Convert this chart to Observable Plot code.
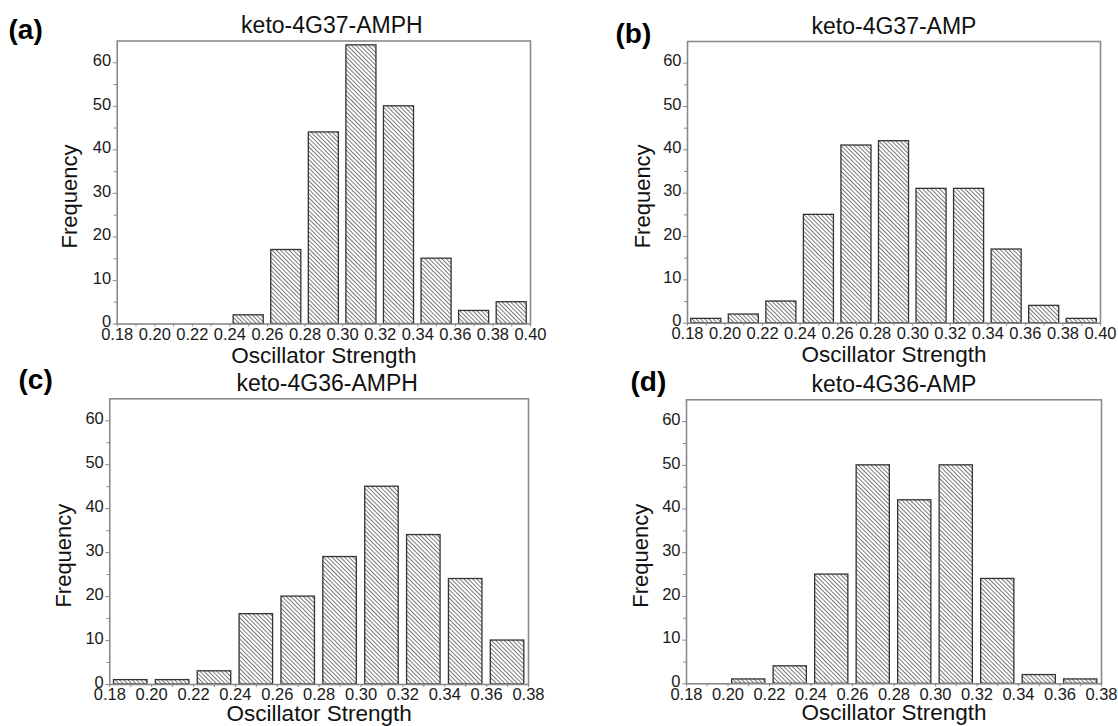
<!DOCTYPE html>
<html><head><meta charset="utf-8">
<script src="https://cdn.jsdelivr.net/npm/d3@7"></script>
<script src="https://cdn.jsdelivr.net/npm/@observablehq/plot@0.6"></script>
<style>
html,body{margin:0;padding:0;background:#fff;}
#root{position:relative;width:1118px;height:726px;overflow:hidden;}
.panel{position:absolute;}
</style></head><body>
<svg width="0" height="0" style="position:absolute">
<defs><pattern id="hatch" patternUnits="userSpaceOnUse" width="3" height="3" patternTransform="rotate(-45)">
<rect width="3" height="3" fill="#fff"/><line x1="0.5" y1="0" x2="0.5" y2="3" stroke="#7a7a7a" stroke-width="1"/></pattern></defs></svg>
<div id="root"></div>
<script>
// ---- data ----
const binLowAB  = [0.18, 0.20, 0.22, 0.24, 0.26, 0.28, 0.30, 0.32, 0.34, 0.36, 0.38];
const binHighAB = [0.20, 0.22, 0.24, 0.26, 0.28, 0.30, 0.32, 0.34, 0.36, 0.38, 0.40];
const binLowCD  = [0.18, 0.20, 0.22, 0.24, 0.26, 0.28, 0.30, 0.32, 0.34, 0.36];
const binHighCD = [0.20, 0.22, 0.24, 0.26, 0.28, 0.30, 0.32, 0.34, 0.36, 0.38];
const countsA = [0, 0, 0, 2, 17, 44, 64, 50, 15, 3, 5];
const countsB = [1, 2, 5, 25, 41, 42, 31, 31, 17, 4, 1];
const countsC = [1, 1, 3, 16, 20, 29, 45, 34, 24, 10];
const countsD = [0, 1, 4, 25, 50, 42, 50, 24, 2, 1];
const xTicksAB = [0.18, 0.20, 0.22, 0.24, 0.26, 0.28, 0.30, 0.32, 0.34, 0.36, 0.38, 0.40];
const xMinorAB = [0.19, 0.21, 0.23, 0.25, 0.27, 0.29, 0.31, 0.33, 0.35, 0.37, 0.39];
const xTicksCD = [0.18, 0.20, 0.22, 0.24, 0.26, 0.28, 0.30, 0.32, 0.34, 0.36, 0.38];
const xMinorCD = [0.19, 0.21, 0.23, 0.25, 0.27, 0.29, 0.31, 0.33, 0.35, 0.37];
const yTicks = [0, 10, 20, 30, 40, 50, 60];
const yMinor = [5, 15, 25, 35, 45, 55];
const titles = ["keto-4G37-AMPH", "keto-4G37-AMP", "keto-4G36-AMPH", "keto-4G36-AMP"];
const panelLabels = ["(a)", "(b)", "(c)", "(d)"];
const xLabel = "Oscillator Strength";
const yLabel = "Frequency";

// ---- layout ----
const panels = [
  {low: binLowAB, high: binHighAB, counts: countsA, xTicks: xTicksAB, xMinor: xMinorAB, title: titles[0], label: panelLabels[0],
   left: 0, top: 0, W: 559, H: 366, mL: 116.7, mR: 29, mT: 40.5, mB: 42.5, labDx: -108.7, labDy: -2, ylabDx: -47, xlabDy: 38.5, titleDx: 8},
  {low: binLowAB, high: binHighAB, counts: countsB, xTicks: xTicksAB, xMinor: xMinorAB, title: titles[1], label: panelLabels[1],
   left: 559, top: 0, W: 559, H: 366, mL: 128, mR: 18, mT: 41, mB: 43.3, labDx: -72, labDy: 1, ylabDx: -45, xlabDy: 39, titleDx: 0},
  {low: binLowCD, high: binHighCD, counts: countsC, xTicks: xTicksCD, xMinor: xMinorCD, title: titles[2], label: panelLabels[2],
   left: 0, top: 366, W: 559, H: 360, mL: 109.3, mR: 31, mT: 32.3, mB: 42, labDx: -91.3, labDy: -10, ylabDx: -46, xlabDy: 36, titleDx: 8},
  {low: binLowCD, high: binHighCD, counts: countsD, xTicks: xTicksCD, xMinor: xMinorCD, title: titles[3], label: panelLabels[3],
   left: 559, top: 366, W: 559, H: 360, mL: 127, mR: 17, mT: 33.3, mB: 42.7, labDx: -56, labDy: -9, ylabDx: -46, xlabDy: 36.5, titleDx: 0}
];

const FONT = "'Liberation Sans', Arial, sans-serif";
const AX = "#8a8a8a";
const fmt = d => d.toFixed(2);

function makePanel(p) {
  const data = p.low.map((lo, i) => ({lo, hi: p.high[i], count: p.counts[i]})).filter(d => d.count > 0);
  const binPx = (p.W - p.mL - p.mR) / p.low.length;
  const inset = binPx * 0.1;
  const svg = Plot.plot({
    width: p.W, height: p.H,
    marginLeft: p.mL, marginRight: p.mR, marginTop: p.mT, marginBottom: p.mB,
    style: {background: "transparent", overflow: "visible", fontFamily: FONT, fontSize: "16.5px", color: "#1a1a1a"},
    x: {type: "linear", domain: [p.xTicks[0], p.xTicks[p.xTicks.length - 1]]},
    y: {domain: [0, 65]},
    marks: [
      Plot.rectY(data, {x1: "lo", x2: "hi", y: "count", fill: "url(#hatch)", stroke: "#333", strokeWidth: 1.3, insetLeft: inset, insetRight: inset}),
      Plot.frame({stroke: AX, strokeWidth: 1.6}),
      Plot.axisX({ticks: p.xTicks, tickFormat: fmt, tickSize: 3, tickPadding: 1, stroke: AX, label: null, fontSize: 16.5}),
      Plot.axisX({ticks: p.xMinor, tickFormat: () => "", tickSize: 3, stroke: AX, label: null}),
      // y ticks (marks only) and y tick labels (text only, nudged up 2px)
      Plot.axisY({ticks: yTicks, tickFormat: () => "", tickSize: 4, stroke: AX, label: null}),
      Plot.axisY({ticks: yTicks, tickSize: 0, tickPadding: 6, stroke: "none", label: null, fontSize: 16.5, dy: -2}),
      Plot.axisY({ticks: yMinor, tickFormat: () => "", tickSize: 3, stroke: AX, label: null}),
      Plot.text([p.title], {frameAnchor: "top", textAnchor: "middle", lineAnchor: "bottom", dx: p.titleDx, dy: -8, fontSize: 23, fill: "#111"}),
      Plot.text([p.label], {frameAnchor: "top-left", textAnchor: "start", lineAnchor: "bottom", dx: p.labDx, dy: p.labDy, fontSize: 28, fontWeight: "bold", fill: "#000"}),
      Plot.text([xLabel], {frameAnchor: "bottom", textAnchor: "middle", lineAnchor: "bottom", dy: p.xlabDy, fontSize: 22.5, fill: "#111"}),
      Plot.text([yLabel], {frameAnchor: "left", textAnchor: "middle", lineAnchor: "middle", rotate: -90, dx: p.ylabDx, dy: 14, fontSize: 22, fill: "#111"})
    ]
  });
  const s = d3.select(svg);
  // drop the empty texts of the tick-only axes
  s.selectAll("text").filter(function() { return this.textContent.trim() === ""; }).remove();
  s.selectAll('g[aria-label="x-axis tick label"] text, g[aria-label="y-axis tick label"] text')
    .style("font-size", "16.5px").style("fill", "#1a1a1a");
  const div = document.createElement("div");
  div.className = "panel";
  div.style.left = p.left + "px";
  div.style.top = p.top + "px";
  div.appendChild(svg);
  document.getElementById("root").appendChild(div);
}
panels.forEach(makePanel);
</script>
</body></html>
